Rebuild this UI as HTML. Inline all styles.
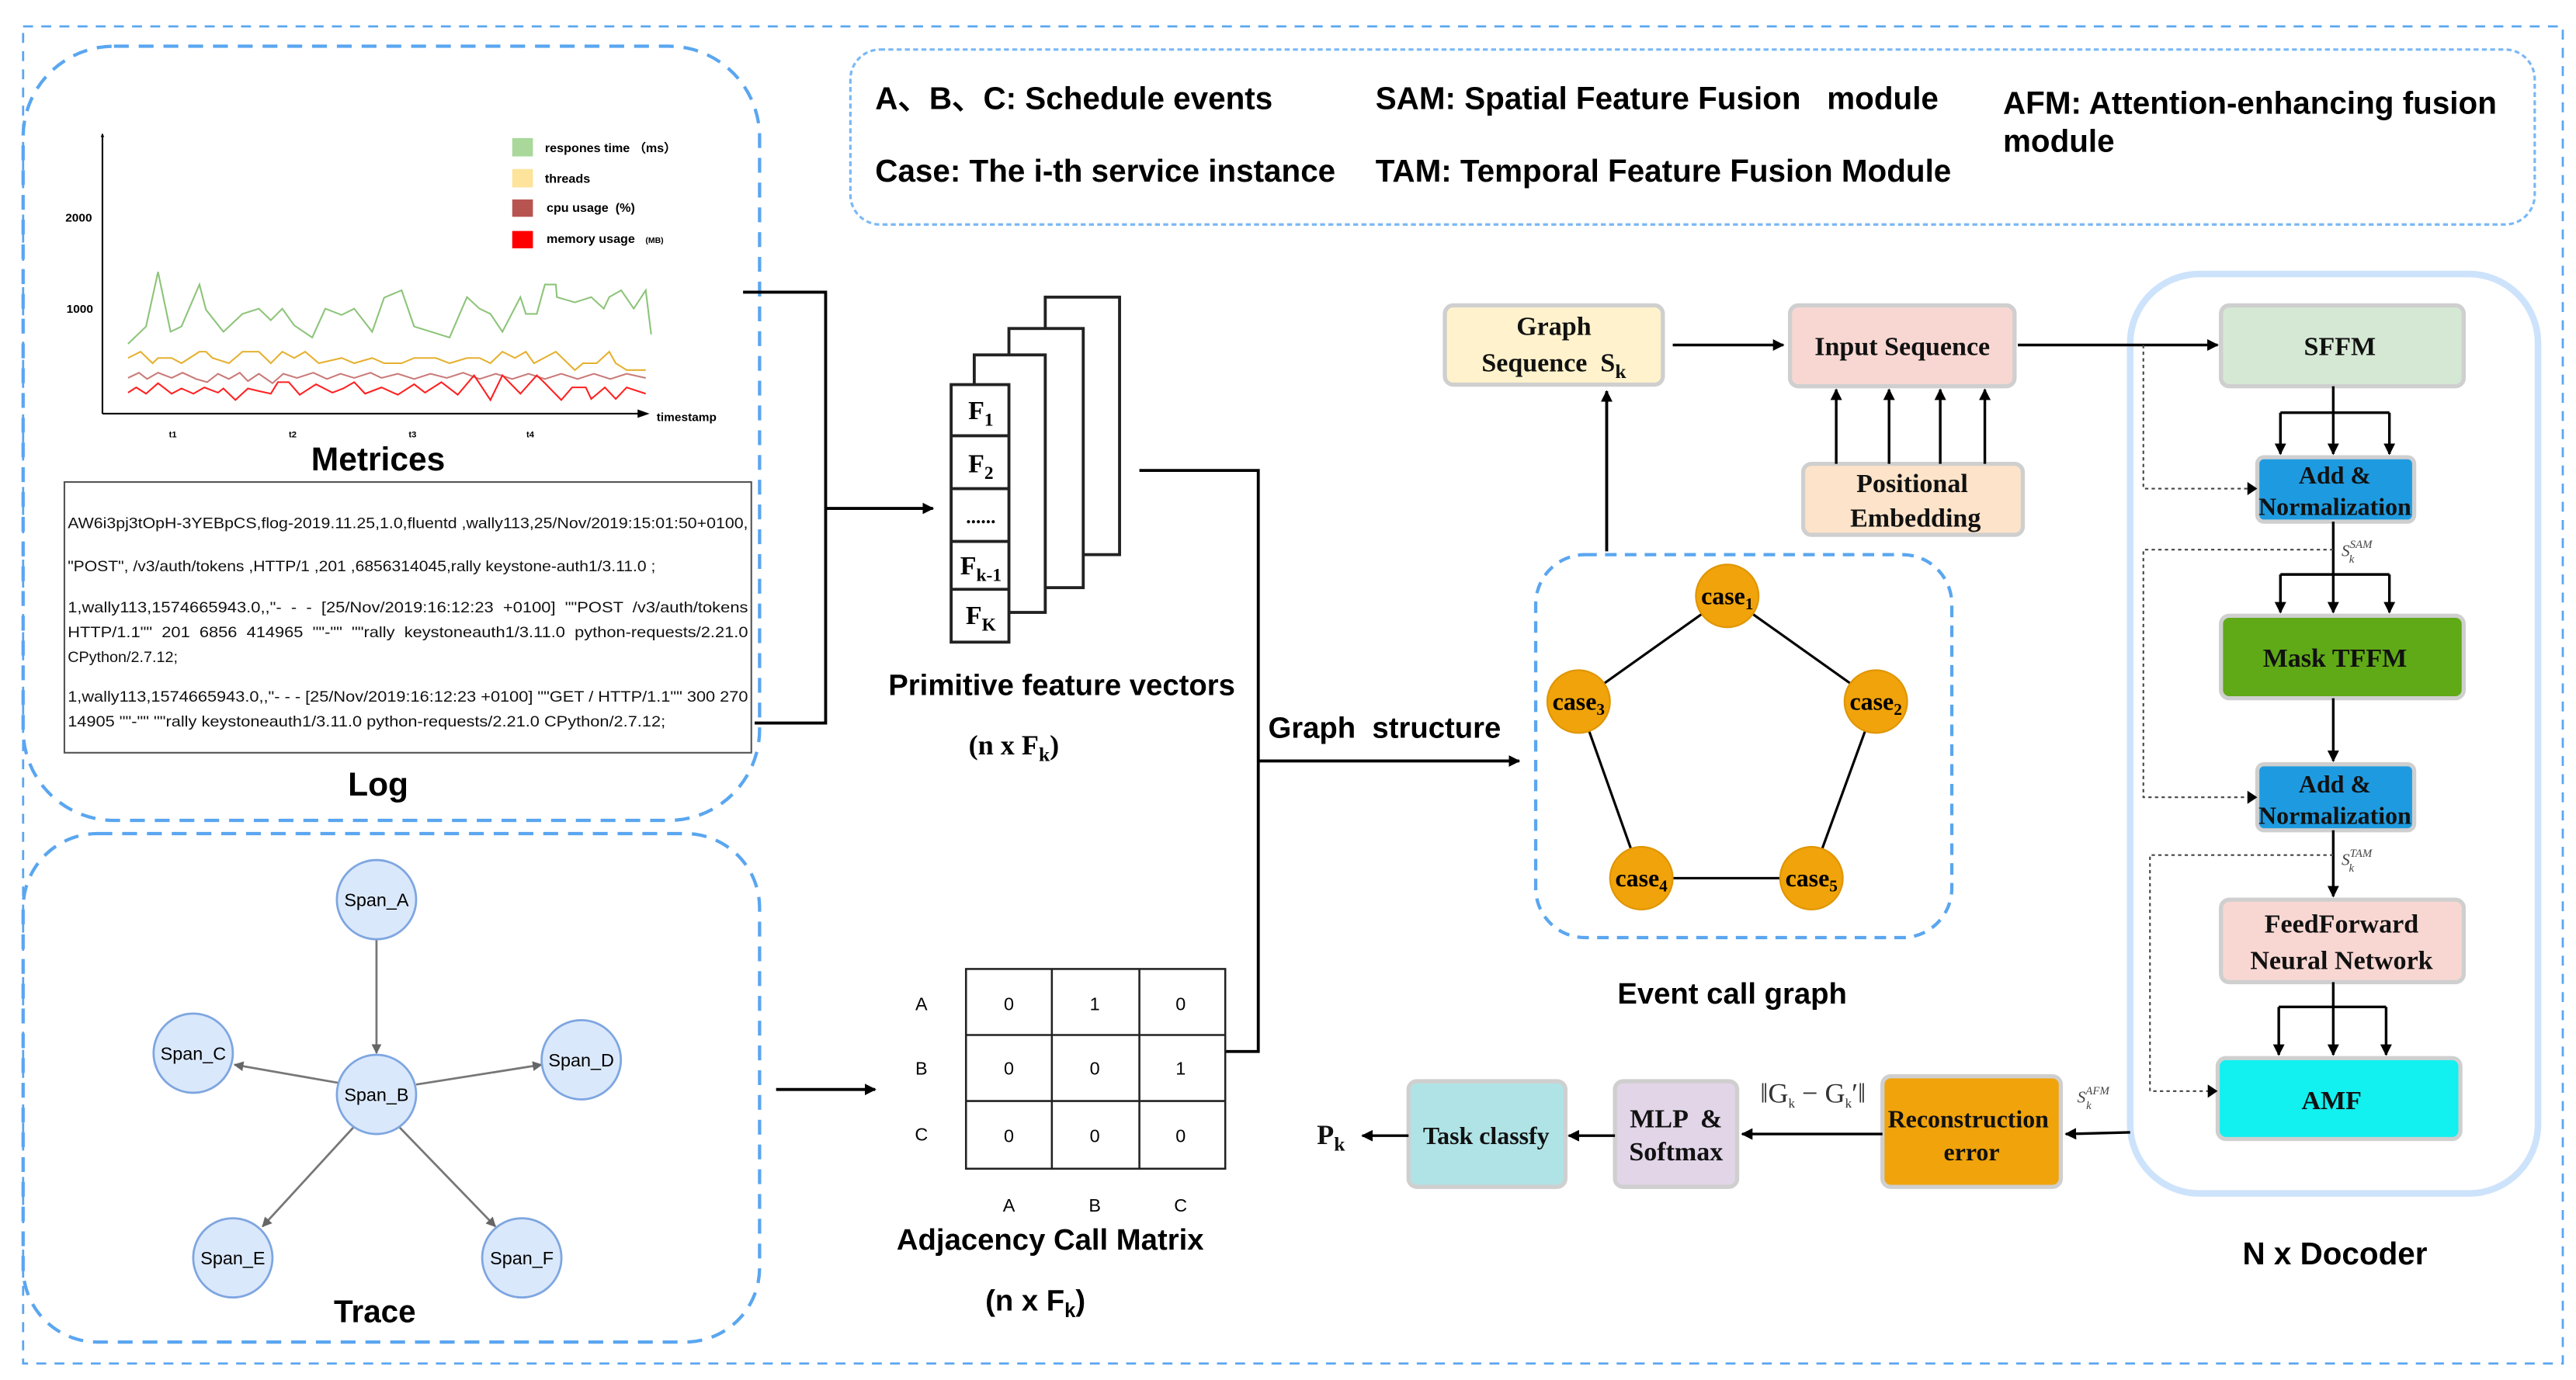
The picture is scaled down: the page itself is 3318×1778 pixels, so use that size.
<!DOCTYPE html>
<html><head><meta charset="utf-8"><style>
html,body{margin:0;padding:0;background:#fff;}
svg{display:block;}
.s{font-family:"Liberation Sans",sans-serif;}
.r{font-family:"Liberation Serif",serif;font-weight:bold;}
</style></head><body>
<svg width="3318" height="1778" viewBox="0 0 1560 836" preserveAspectRatio="none" xmlns="http://www.w3.org/2000/svg">
<defs>
<marker id="a" viewBox="0 0 10 10" refX="9" refY="5" markerWidth="7" markerHeight="7" markerUnits="userSpaceOnUse" orient="auto"><path d="M0,0L10,5L0,10z" fill="#000"/></marker>
<marker id="g" viewBox="0 0 10 10" refX="9" refY="5" markerWidth="6" markerHeight="6" markerUnits="userSpaceOnUse" orient="auto"><path d="M0,0L10,5L0,10z" fill="#666"/></marker>
</defs>
<rect width="1560" height="836" fill="#fff"/>
<rect x="14" y="16" width="1538" height="810" fill="none" stroke="#5aa6f0" stroke-width="1.3" stroke-dasharray="6,5"/>
<rect x="14" y="28" width="446" height="469" rx="55" fill="none" stroke="#5aa6f0" stroke-width="2" stroke-dasharray="9,6"/>
<rect x="14" y="505" width="446" height="308" rx="45" fill="none" stroke="#5aa6f0" stroke-width="2" stroke-dasharray="9,6"/>
<rect x="515" y="30" width="1020" height="106" rx="18" fill="none" stroke="#7ab8f5" stroke-width="1.5" stroke-dasharray="3,2"/>
<g class="s" font-weight="bold" font-size="19" fill="#000">
<text x="530" y="66">A、B、C: Schedule events</text>
<text x="530" y="110">Case: The i-th service instance</text>
<text x="833" y="66">SAM: Spatial Feature Fusion &#160;&#160;module</text>
<text x="833" y="110">TAM: Temporal Feature Fusion Module</text>
<text x="1213" y="69">AFM: Attention-enhancing fusion</text>
<text x="1213" y="92">module</text>
</g>
<g transform="scale(0.33,0.318)">
<line x1="188" y1="788" x2="188" y2="255" stroke="#000" stroke-width="3" marker-end="url(#a)"/>
<line x1="188" y1="788" x2="1185" y2="788" stroke="#000" stroke-width="3"/>
<path d="M1170,780L1192,788L1170,796z" fill="#000"/>
<g class="s" font-weight="bold" font-size="22">
<text x="120" y="422">2000</text><text x="122" y="596">1000</text>
<text x="1205" y="802">timestamp</text>
<text x="310" y="833" font-size="16">t1</text><text x="530" y="833" font-size="16">t2</text><text x="750" y="833" font-size="16">t3</text><text x="966" y="833" font-size="16">t4</text>
<text x="1000" y="290" font-size="23">respones time （ms）</text>
<text x="1000" y="348" font-size="23">threads</text>
<text x="1003" y="404" font-size="23">cpu usage &#160;(%)</text>
<text x="1003" y="463" font-size="23">memory usage &#160;&#160;<tspan font-size="15">(MB)</tspan></text>
</g>
<rect x="940" y="263" width="38" height="35" fill="#a9d89a"/>
<rect x="940" y="322" width="38" height="35" fill="#fde49a"/>
<rect x="940" y="380" width="38" height="33" fill="#b85450"/>
<rect x="940" y="440" width="38" height="33" fill="#ff0000"/>
<polyline fill="none" stroke="#8dc47a" stroke-width="3" points="235,655 268,622 290,518 313,632 333,622 366,542 378,590 410,632 445,598 475,588 497,610 518,588 540,620 573,643 597,588 627,600 650,588 683,632 705,567 737,553 760,622 825,643 857,566 880,588 900,598 922,632 955,566 965,598 985,598 1000,542 1020,542 1022,566 1055,576 1085,566 1108,588 1118,566 1140,553 1163,588 1185,553 1195,637"/>
<polyline fill="none" stroke="#e6b030" stroke-width="3" points="235,682 258,670 280,692 290,682 315,682 333,692 366,670 378,670 390,682 420,692 445,670 475,670 497,692 518,670 540,682 560,670 585,692 627,682 650,692 683,682 705,692 737,692 760,682 800,682 825,692 857,682 880,682 900,692 922,670 945,682 965,670 980,692 1020,670 1055,705 1070,692 1095,692 1118,670 1130,692 1150,705 1185,705"/>
<polyline fill="none" stroke="#c97a78" stroke-width="3" points="235,720 255,710 270,722 290,710 315,720 335,710 360,722 380,728 400,712 420,722 440,710 455,726 475,712 500,730 520,712 545,720 575,710 600,722 625,712 650,720 680,710 700,720 730,712 760,722 790,712 820,720 850,710 880,722 910,712 940,722 970,712 1000,722 1030,712 1060,722 1090,712 1120,722 1150,712 1185,720"/>
<polyline fill="none" stroke="#ff2020" stroke-width="3" points="235,748 250,738 268,750 290,730 315,750 333,740 355,750 375,738 400,748 410,740 432,762 455,740 475,745 497,750 510,728 530,728 550,752 580,732 610,748 630,740 650,728 670,750 700,738 730,752 760,732 780,748 810,728 840,752 870,715 900,762 922,715 955,750 985,715 1000,730 1030,762 1050,738 1075,738 1085,760 1110,738 1130,760 1150,738 1185,750"/>
</g>
<text x="229" y="285" class="s" font-weight="bold" font-size="20" text-anchor="middle">Metrices</text>
<rect x="39" y="292" width="416" height="164" fill="#fff" stroke="#555" stroke-width="1"/>
<g class="s" font-size="9.3" fill="#111">
<text x="41" y="320" textLength="412" lengthAdjust="spacingAndGlyphs">AW6i3pj3tOpH-3YEBpCS,flog-2019.11.25,1.0,fluentd ,wally113,25/Nov/2019:15:01:50+0100,</text>
<text x="41" y="346" textLength="356" lengthAdjust="spacingAndGlyphs">"POST", /v3/auth/tokens ,HTTP/1 ,201 ,6856314045,rally keystone-auth1/3.11.0 ;</text>
<text x="41" y="371" textLength="412" lengthAdjust="spacingAndGlyphs">1,wally113,1574665943.0,,"- &#160;- &#160;- &#160;[25/Nov/2019:16:12:23 &#160;+0100] &#160;""POST &#160;/v3/auth/tokens</text>
<text x="41" y="386" textLength="412" lengthAdjust="spacingAndGlyphs">HTTP/1.1"" &#160;201 &#160;6856 &#160;414965 &#160;""-"" &#160;""rally &#160;keystoneauth1/3.11.0 &#160;python-requests/2.21.0</text>
<text x="41" y="401">CPython/2.7.12;</text>
<text x="41" y="425" textLength="412" lengthAdjust="spacingAndGlyphs">1,wally113,1574665943.0,,"- - - [25/Nov/2019:16:12:23 +0100] ""GET / HTTP/1.1"" 300 270</text>
<text x="41" y="440" textLength="362" lengthAdjust="spacingAndGlyphs">14905 ""-"" ""rally keystoneauth1/3.11.0 python-requests/2.21.0 CPython/2.7.12;</text>
</g>
<text x="229" y="482" class="s" font-weight="bold" font-size="20" text-anchor="middle">Log</text>
<polyline points="450,177 500,177 500,438 457,438" fill="none" stroke="#000" stroke-width="1.8"/>
<line x1="500" y1="308" x2="565" y2="308" stroke="#000" stroke-width="1.8" marker-end="url(#a)"/>
<g fill="#fff" stroke="#222" stroke-width="1.8">
<rect x="633" y="180" width="45" height="156"/>
<rect x="611" y="199" width="45" height="157"/>
<rect x="590" y="215" width="43" height="156"/>
<rect x="576" y="233" width="35" height="156"/>
<line x1="576" y1="264" x2="611" y2="264"/><line x1="576" y1="296" x2="611" y2="296"/><line x1="576" y1="328" x2="611" y2="328"/><line x1="576" y1="357" x2="611" y2="357"/>
</g>
<g class="r" font-size="16" text-anchor="middle">
<text x="594" y="254">F<tspan font-size="11" dy="4">1</tspan></text>
<text x="594" y="286">F<tspan font-size="11" dy="4">2</tspan></text>
<text x="594" y="317" font-size="12">......</text>
<text x="594" y="348">F<tspan font-size="11" dy="4">k-1</tspan></text>
<text x="594" y="378">F<tspan font-size="11" dy="4">K</tspan></text>
</g>
<text x="643" y="421" class="s" font-weight="bold" font-size="18" text-anchor="middle">Primitive feature vectors</text>
<text x="614" y="457" class="r" font-size="17" text-anchor="middle">(n x F<tspan font-size="12" dy="4">k</tspan><tspan dy="-4">)</tspan></text>
<polyline points="690,285 762,285 762,637 742,637" fill="none" stroke="#000" stroke-width="1.8"/>
<line x1="762" y1="461" x2="920" y2="461" stroke="#000" stroke-width="1.8" marker-end="url(#a)"/>
<text x="768" y="447" class="s" font-weight="bold" font-size="18">Graph &#160;structure</text>
<g stroke="#777" stroke-width="1.3">
<line x1="228" y1="569" x2="228" y2="638" marker-end="url(#g)"/>
<line x1="205" y1="656" x2="142" y2="645" marker-end="url(#g)"/>
<line x1="252" y1="657" x2="328" y2="645" marker-end="url(#g)"/>
<line x1="214" y1="683" x2="159" y2="743" marker-end="url(#g)"/>
<line x1="242" y1="683" x2="300" y2="743" marker-end="url(#g)"/>
</g>
<g fill="#dae8fc" stroke="#7ea6e0" stroke-width="1.3">
<circle cx="228" cy="545" r="24"/><circle cx="117" cy="638" r="24"/><circle cx="228" cy="663" r="24"/>
<circle cx="352" cy="642" r="24"/><circle cx="141" cy="762" r="24"/><circle cx="316" cy="762" r="24"/>
</g>
<g class="s" font-size="11" text-anchor="middle">
<text x="228" y="549">Span_A</text><text x="117" y="642">Span_C</text><text x="228" y="667">Span_B</text>
<text x="352" y="646">Span_D</text><text x="141" y="766">Span_E</text><text x="316" y="766">Span_F</text>
</g>
<text x="227" y="801" class="s" font-weight="bold" font-size="19" text-anchor="middle">Trace</text>
<line x1="470" y1="660" x2="530" y2="660" stroke="#000" stroke-width="1.8" marker-end="url(#a)"/>
<g fill="none" stroke="#222" stroke-width="1.2">
<rect x="585" y="587" width="157" height="121"/>
<line x1="637" y1="587" x2="637" y2="708"/><line x1="690" y1="587" x2="690" y2="708"/>
<line x1="585" y1="627" x2="742" y2="627"/><line x1="585" y1="667" x2="742" y2="667"/>
</g>
<g class="s" font-size="11" text-anchor="middle">
<text x="558" y="612">A</text><text x="558" y="651">B</text><text x="558" y="691">C</text>
<text x="611" y="612">0</text><text x="663" y="612">1</text><text x="715" y="612">0</text>
<text x="611" y="651">0</text><text x="663" y="651">0</text><text x="715" y="651">1</text>
<text x="611" y="692">0</text><text x="663" y="692">0</text><text x="715" y="692">0</text>
<text x="611" y="734">A</text><text x="663" y="734">B</text><text x="715" y="734">C</text>
</g>
<text x="636" y="757" class="s" font-weight="bold" font-size="18" text-anchor="middle">Adjacency Call Matrix</text>
<text x="627" y="794" class="s" font-weight="bold" font-size="18" text-anchor="middle">(n x F<tspan font-size="12" dy="4">k</tspan><tspan dy="-4">)</tspan></text>
<rect x="930" y="336" width="252" height="232" rx="30" fill="none" stroke="#5aa6f0" stroke-width="2" stroke-dasharray="7,5"/>
<g stroke="#000" stroke-width="1.5">
<line x1="1046" y1="361" x2="956" y2="425"/><line x1="1046" y1="361" x2="1136" y2="425"/>
<line x1="956" y1="425" x2="994" y2="532"/><line x1="1136" y1="425" x2="1097" y2="532"/>
<line x1="994" y1="532" x2="1097" y2="532"/>
</g>
<g fill="#f0a30a" stroke="#e09500" stroke-width="1">
<circle cx="1046" cy="361" r="19"/><circle cx="956" cy="425" r="19"/><circle cx="1136" cy="425" r="19"/>
<circle cx="994" cy="532" r="19"/><circle cx="1097" cy="532" r="19"/>
</g>
<g class="r" font-size="15" text-anchor="middle">
<text x="1046" y="366">case<tspan font-size="10" dy="3">1</tspan></text>
<text x="956" y="430">case<tspan font-size="10" dy="3">3</tspan></text>
<text x="1136" y="430">case<tspan font-size="10" dy="3">2</tspan></text>
<text x="994" y="537">case<tspan font-size="10" dy="3">4</tspan></text>
<text x="1097" y="537">case<tspan font-size="10" dy="3">5</tspan></text>
</g>
<text x="1049" y="608" class="s" font-weight="bold" font-size="18" text-anchor="middle">Event call graph</text>
<line x1="973" y1="334" x2="973" y2="237" stroke="#000" stroke-width="1.8" marker-end="url(#a)"/>
<g stroke="#cfcfcf" stroke-width="2.5">
<rect x="875" y="185" width="132" height="48" rx="5" fill="#fff2cc"/>
<rect x="1084" y="185" width="136" height="49" rx="5" fill="#f8d7d3"/>
<rect x="1092" y="281" width="133" height="43" rx="5" fill="#fde3c9"/>
<rect x="1345" y="185" width="147" height="49" rx="5" fill="#d5e8d4"/>
<rect x="1367" y="277" width="95" height="39" rx="4" fill="#1e9be0"/>
<rect x="1345" y="373" width="147" height="50" rx="5" fill="#60a917"/>
<rect x="1367" y="463" width="95" height="40" rx="4" fill="#1e9be0"/>
<rect x="1345" y="545" width="147" height="50" rx="5" fill="#f8d7d3"/>
<rect x="1343" y="641" width="147" height="49" rx="5" fill="#12f0f0"/>
<rect x="1140" y="652" width="108" height="67" rx="5" fill="#f0a30a"/>
<rect x="978" y="655" width="74" height="64" rx="5" fill="#e1d5e7"/>
<rect x="853" y="655" width="95" height="64" rx="5" fill="#b0e3e6"/>
</g>
<rect x="1290" y="166" width="247" height="557" rx="42" fill="none" stroke="#cde3fb" stroke-width="4"/>
<g class="r" font-size="16" text-anchor="middle" fill="#111">
<text x="941" y="203">Graph</text>
<text x="941" y="225">Sequence &#160;S<tspan font-size="12" dy="4">k</tspan></text>
<text x="1152" y="215">Input Sequence</text>
<text x="1158" y="298">Positional</text>
<text x="1160" y="319">Embedding</text>
<text x="1417" y="215">SFFM</text>
<text x="1414" y="293" font-size="15">Add &amp;</text>
<text x="1414" y="312" font-size="15">Normalization</text>
<text x="1414" y="404">Mask TFFM</text>
<text x="1414" y="480" font-size="15">Add &amp;</text>
<text x="1414" y="499" font-size="15">Normalization</text>
<text x="1418" y="565">FeedForward</text>
<text x="1418" y="587">Neural Network</text>
<text x="1412" y="672">AMF</text>
<text x="1192" y="683" font-size="15">Reconstruction</text>
<text x="1194" y="703" font-size="15">error</text>
<text x="1015" y="683">MLP &#160;&amp;</text>
<text x="1015" y="703">Softmax</text>
<text x="900" y="693" font-size="15">Task classfy</text>
<text x="806" y="693" font-size="17">P<tspan font-size="12" dy="4">k</tspan></text>
</g>
<g stroke="#000" stroke-width="1.6" fill="none">
<line x1="1013" y1="209" x2="1080" y2="209" marker-end="url(#a)"/>
<line x1="1112" y1="281" x2="1112" y2="236" marker-end="url(#a)"/>
<line x1="1144" y1="281" x2="1144" y2="236" marker-end="url(#a)"/>
<line x1="1175" y1="281" x2="1175" y2="236" marker-end="url(#a)"/>
<line x1="1202" y1="281" x2="1202" y2="236" marker-end="url(#a)"/>
<line x1="1222" y1="209" x2="1343" y2="209" marker-end="url(#a)"/>
<polyline points="1413,234 1413,250"/><polyline points="1381,250 1447,250"/>
<line x1="1381" y1="250" x2="1381" y2="275" marker-end="url(#a)"/>
<line x1="1413" y1="250" x2="1413" y2="275" marker-end="url(#a)"/>
<line x1="1447" y1="250" x2="1447" y2="275" marker-end="url(#a)"/>
<polyline points="1413,316 1413,348"/><polyline points="1381,348 1447,348"/>
<line x1="1381" y1="348" x2="1381" y2="371" marker-end="url(#a)"/>
<line x1="1413" y1="348" x2="1413" y2="371" marker-end="url(#a)"/>
<line x1="1447" y1="348" x2="1447" y2="371" marker-end="url(#a)"/>
<line x1="1413" y1="423" x2="1413" y2="461" marker-end="url(#a)"/>
<line x1="1413" y1="503" x2="1413" y2="543" marker-end="url(#a)"/>
<polyline points="1413,595 1413,610"/><polyline points="1380,610 1445,610"/>
<line x1="1380" y1="610" x2="1380" y2="639" marker-end="url(#a)"/>
<line x1="1413" y1="610" x2="1413" y2="639" marker-end="url(#a)"/>
<line x1="1445" y1="610" x2="1445" y2="639" marker-end="url(#a)"/>
<line x1="1290" y1="686" x2="1251" y2="687" marker-end="url(#a)"/>
<line x1="1140" y1="687" x2="1055" y2="687" marker-end="url(#a)"/>
<line x1="978" y1="688" x2="950" y2="688" marker-end="url(#a)"/>
<line x1="853" y1="688" x2="825" y2="688" marker-end="url(#a)"/>
</g>
<g stroke="#444" stroke-width="1" stroke-dasharray="2,2" fill="none">
<polyline points="1298,209 1298,296 1365,296"/>
<polyline points="1413,333 1298,333 1298,483 1365,483"/>
<polyline points="1413,518 1302,518 1302,661 1341,661"/>
</g>
<path d="M1361,292L1367,296L1361,300z"/><path d="M1361,479L1367,483L1361,487z"/><path d="M1337,657L1343,661L1337,665z"/>
<g font-family="Liberation Serif,serif" font-style="italic" fill="#444" font-size="10">
<text x="1418" y="337">S<tspan font-size="7" dy="-5">SAM</tspan><tspan font-size="7" dx="-14" dy="9">k</tspan></text>
<text x="1418" y="524">S<tspan font-size="7" dy="-5">TAM</tspan><tspan font-size="7" dx="-14" dy="9">k</tspan></text>
<text x="1258" y="668">S<tspan font-size="7" dy="-5">AFM</tspan><tspan font-size="7" dx="-14" dy="9">k</tspan></text>
</g>
<text x="1066" y="668" font-family="Liberation Serif,serif" font-size="17" fill="#333">‖G<tspan font-size="8" dy="3">k</tspan><tspan dy="-3"> − G</tspan><tspan font-size="8" dy="3">k</tspan><tspan dy="-3">′‖</tspan></text>
<text x="1414" y="766" class="s" font-weight="bold" font-size="19" text-anchor="middle">N x Docoder</text>
</svg>
</body></html>
